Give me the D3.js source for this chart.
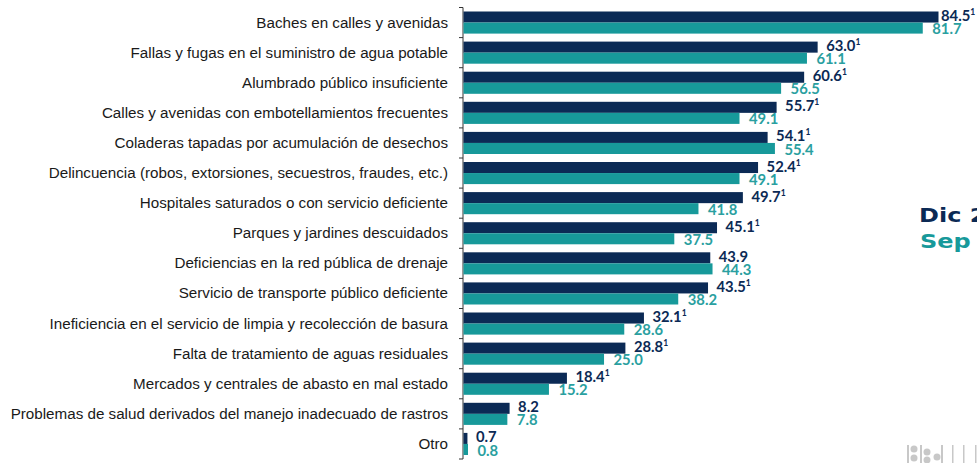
<!DOCTYPE html>
<html><head><meta charset="utf-8">
<script src="https://cdn.jsdelivr.net/npm/d3@7"></script>
<style>html,body{margin:0;padding:0;background:#fff;overflow:hidden}</style>
</head><body>
<svg id="c" width="977" height="463"></svg>
<script>
const categories = [
  "Baches en calles y avenidas",
  "Fallas y fugas en el suministro de agua potable",
  "Alumbrado público insuficiente",
  "Calles y avenidas con embotellamientos frecuentes",
  "Coladeras tapadas por acumulación de desechos",
  "Delincuencia (robos, extorsiones, secuestros, fraudes, etc.)",
  "Hospitales saturados o con servicio deficiente",
  "Parques y jardines descuidados",
  "Deficiencias en la red pública de drenaje",
  "Servicio de transporte público deficiente",
  "Ineficiencia en el servicio de limpia y recolección de basura",
  "Falta de tratamiento de aguas residuales",
  "Mercados y centrales de abasto en mal estado",
  "Problemas de salud derivados del manejo inadecuado de rastros",
  "Otro"
];
const dic = [84.5, 63.0, 60.6, 55.7, 54.1, 52.4, 49.7, 45.1, 43.9, 43.5, 32.1, 28.8, 18.4, 8.2, 0.7];
const sep = [81.7, 61.1, 56.5, 49.1, 55.4, 49.1, 41.8, 37.5, 44.3, 38.2, 28.6, 25.0, 15.2, 7.8, 0.8];
const dicNote = [true, true, true, true, true, true, true, true, false, true, true, true, true, false, false];
const legendLabels = ["Dic 2023", "Sep 2023"];

(function () {
const W = 977, H = 463;
const navy = "#0b2a55", teal = "#17999a", tealText = "#2a9fa0";
const svg = d3.select("#c");

const x0 = 463, yTop = 7.5, yBot = 459;
const x = d3.scaleLinear().domain([0, 84.5]).range([x0, 938]);
const y = d3.scaleBand().domain(categories).range([yTop, yBot]).paddingInner(0).paddingOuter(0);
const pad = 4;
const bh = (y.bandwidth() - 2 * pad) / 2;

// axis
const axis = d3.axisLeft(y).tickSize(0).tickFormat("");
const ag = svg.append("g").attr("transform", `translate(${x0},0)`).call(axis);
ag.select(".domain").attr("stroke", "#333").attr("stroke-width", 1).attr("d", `M0,${yTop}V${yBot}`);
const bounds = categories.map(c => y(c)).concat([yBot]);
svg.append("g").selectAll("line").data(bounds).join("line")
  .attr("x1", x0 - 4).attr("x2", x0).attr("y1", d => d).attr("y2", d => d)
  .attr("stroke", "#333").attr("stroke-width", 1);

// category labels
svg.append("g").selectAll("text").data(categories).join("text")
  .attr("x", 448).attr("y", d => y(d) + y.bandwidth() / 2 + 5)
  .attr("text-anchor", "end")
  .attr("font-family", "Liberation Sans, Arial, sans-serif")
  .attr("font-size", 15.2).attr("fill", "#1a1a1a")
  .text(d => d);

// bars
const rows = categories.map((c, i) => ({c, d: dic[i], s: sep[i], n: dicNote[i]}));
svg.append("g").selectAll("rect").data(rows).join("rect")
  .attr("x", x0 + 0.5).attr("y", r => y(r.c) + pad)
  .attr("width", r => x(r.d) - x0).attr("height", bh).attr("fill", navy);
svg.append("g").selectAll("rect").data(rows).join("rect")
  .attr("x", x0 + 0.5).attr("y", r => y(r.c) + pad + bh)
  .attr("width", r => x(r.s) - x0).attr("height", bh).attr("fill", teal);

// value labels
const lf = "Lato, 'Open Sans', sans-serif";
const gl = svg.append("g");
rows.forEach(r => {
  const t = gl.append("text")
    .attr("y", y(r.c) + pad + bh - 1.5)
    .attr("font-family", lf).attr("font-weight", 700).attr("font-size", 14.8)
    .attr("fill", navy);
  t.append("tspan").text(r.d.toFixed(1));
  if (r.n) t.append("tspan").attr("font-size", 8.5).attr("dy", -6).text("1");
  const w = t.node().getComputedTextLength();
  let tx = x(r.d) + 9;
  if (tx + w > W - 3) tx = Math.max(x(r.d) + 3, W - 3 - w);
  t.attr("x", tx);

  gl.append("text")
    .attr("x", x(r.s) + 10)
    .attr("y", y(r.c) + pad + 2 * bh + 0.5)
    .attr("font-family", lf).attr("font-weight", 700).attr("font-size", 14.8)
    .attr("fill", tealText)
    .text(r.s.toFixed(1));
});

// legend (clipped at right edge)
svg.append("text").attr("transform", "translate(919,222) scale(1.2,1)")
  .attr("font-family", "DejaVu Sans, sans-serif").attr("font-weight", 700)
  .attr("font-size", 20).attr("fill", navy).text(legendLabels[0]);
svg.append("text").attr("transform", "translate(920,248) scale(1.2,1)")
  .attr("font-family", "DejaVu Sans, sans-serif").attr("font-weight", 700)
  .attr("font-size", 20).attr("fill", teal).text(legendLabels[1]);

// faint logo fragment bottom-right
const lg = svg.append("g").attr("fill", "#c8c8c8");
lg.append("rect").attr("x", 907).attr("y", 445).attr("width", 2).attr("height", 18);
lg.append("circle").attr("cx", 914).attr("cy", 449).attr("r", 3.5);
lg.append("circle").attr("cx", 914).attr("cy", 458).attr("r", 3.5);
lg.append("rect").attr("x", 920).attr("y", 445).attr("width", 2).attr("height", 18);
lg.append("circle").attr("cx", 927).attr("cy", 452).attr("r", 3.5);
lg.append("circle").attr("cx", 927).attr("cy", 460).attr("r", 3.5);
lg.append("circle").attr("cx", 937).attr("cy", 457).attr("r", 3.5);
lg.append("rect").attr("x", 941).attr("y", 445).attr("width", 2).attr("height", 18);
lg.append("rect").attr("x", 952).attr("y", 445).attr("width", 1.5).attr("height", 18);
lg.append("rect").attr("x", 963).attr("y", 445).attr("width", 1.5).attr("height", 18);
lg.append("rect").attr("x", 975).attr("y", 445).attr("width", 1.5).attr("height", 18);
})();
</script>
</body></html>
